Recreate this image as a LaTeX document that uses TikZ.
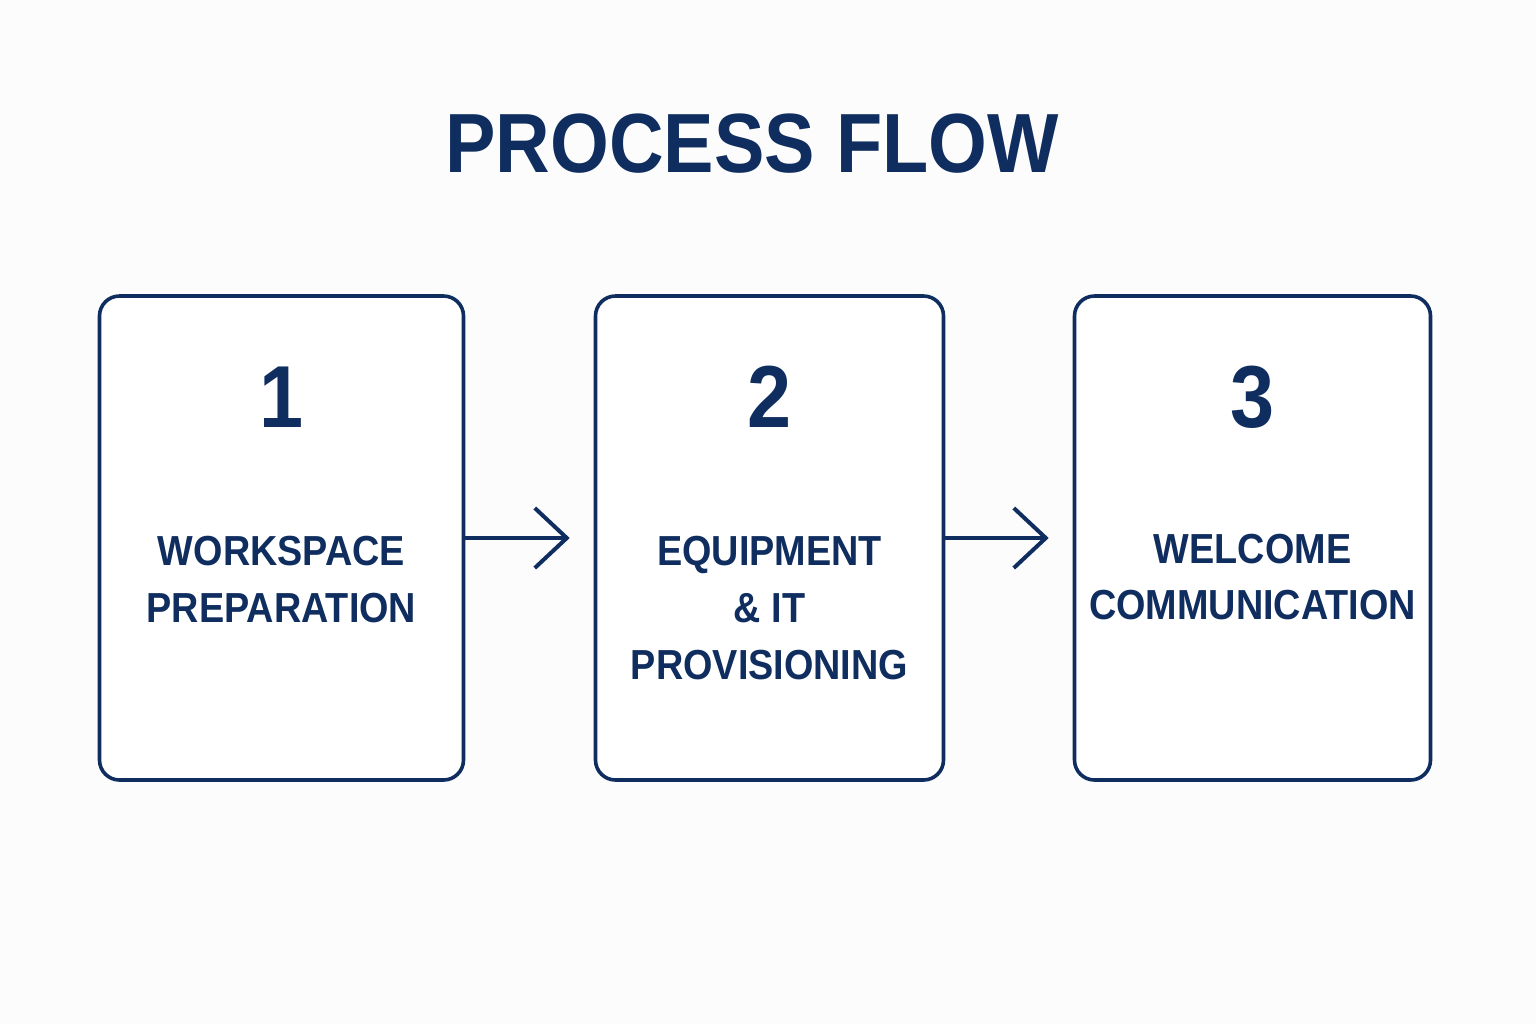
\documentclass[tikz,border=0pt]{standalone}
\usepackage{fontspec}
\setmainfont{Liberation Sans}[FakeStretch=0.9]
\usetikzlibrary{arrows.meta}

\definecolor{navy}{HTML}{0F2D5E}

\tikzset{
    stepbox/.style={draw=navy, line width=1.8pt, rounded corners=10pt, fill=white,
        minimum height=242pt, inner sep=0pt},
    numlabel/.style={anchor=base, text=navy, font=\bfseries\fontsize{44}{44}\selectfont},
    steptext/.style={anchor=base, text=navy, font=\bfseries\fontsize{21}{21}\selectfont},
    flow/.style={draw=navy, line width=2pt, shorten >=12pt,
        -{Straight Barb[length=16pt, width=30pt, line width=2pt]}}
}

\begin{document}
\begin{tikzpicture}[x=0.5pt, y=-0.5pt]
% Page with its margins
\fill[white!99!black] (0,0) rectangle (1536,1024);
\useasboundingbox (0,0) rectangle (1536,1024);

% Title
\node[anchor=base, text=navy, font=\bfseries\fontsize{42}{42}\selectfont] (title) at (752,172) {PROCESS FLOW};

% Draw the three steps with their numbers
\foreach \n/\x/\w in {1/281.5/364, 2/769.5/348, 3/1252.5/356} {
    \node[stepbox, minimum width=\w*0.5pt] (box\n) at (\x,538) {};
    \node[numlabel] (num\n) at (\x,427) {\n};
}

% Text of each step
\node[steptext] (lab1a) at (281.5,565) {WORKSPACE};
\node[steptext] (lab1b) at (281.5,622) {PREPARATION};

\node[steptext] (lab2a) at (769.5,565) {EQUIPMENT};
\node[steptext] (lab2b) at (769.5,622) {\& IT};
\node[steptext] (lab2c) at (769.5,679) {PROVISIONING};

\node[steptext] (lab3a) at (1252.5,563) {WELCOME};
\node[steptext] (lab3b) at (1252.5,619) {COMMUNICATION};

% Arrows between the steps
\draw[flow] (box1) -- (box2);
\draw[flow] (box2) -- (box3);

\end{tikzpicture}
\end{document}
